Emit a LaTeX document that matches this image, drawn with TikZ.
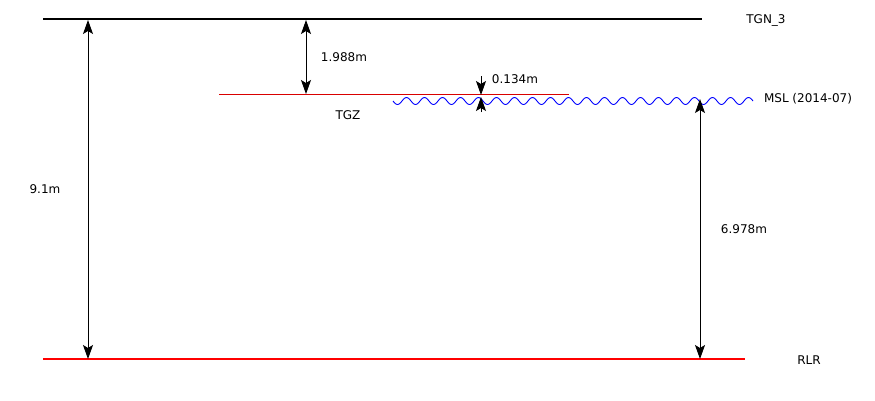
\documentclass[tikz,border=0pt]{standalone}
\usepackage{fontspec}
\setmainfont{DejaVu Sans}
\usetikzlibrary{arrows.meta}

\begin{document}
\begin{tikzpicture}[x=1pt,y=-1pt,
  >={Stealth[length=14pt,width=10pt,inset=3pt]},
  lbl/.style={font=\fontsize{12}{14}\selectfont,inner sep=0pt},
  dim/.style={<->,line width=0.9pt}]
  \useasboundingbox (0,0) rectangle (875,400);
  % level lines
  \coordinate (tgnL) at (43,19);   \coordinate (tgnR) at (702,19);
  \coordinate (tgzL) at (219,94);  \coordinate (tgzR) at (569,94);
  \coordinate (rlrL) at (43,359);  \coordinate (rlrR) at (745,359);
  \draw[line width=1.6pt] (tgnL) -- (tgnR);
  \draw[line width=0.9pt,red!85!black] (tgzL) -- (tgzR);
  \draw[blue,line width=0.9pt] plot[domain=393:753,samples=361,smooth] (\x,{101+3.5*sin((\x-393)*20)});
  \draw[line width=1.6pt,red] (rlrL) -- (rlrR);
  % level names
  \node[lbl] (tgn) at (766,20) {TGN\_3};
  \node[lbl] (tgz) at (348,115) {TGZ};
  \node[lbl] (msl) at (808,99) {MSL (2014-07)};
  \node[lbl] (rlr) at (809,360) {RLR};
  % dimensions
  \coordinate (a1) at (306,20);  \coordinate (a2) at (306,94);
  \coordinate (b1) at (88,20);   \coordinate (b2) at (88,359);
  \coordinate (c1) at (700,99);  \coordinate (c2) at (700,359);
  \coordinate (d0) at (481,76);  \coordinate (d1) at (481,95);
  \coordinate (d2) at (481,97);  \coordinate (d3) at (481,112);
  \draw[dim] (a1) -- (a2);
  \draw[dim] (b1) -- (b2);
  \draw[dim] (c1) -- (c2);
  \draw[->,line width=0.9pt] (d0) -- (d1);
  \draw[->,line width=0.9pt] (d3) -- (d2);
  \node[lbl] (la) at (344,57) {1.988m};
  \node[lbl] (lb) at (45,189) {9.1m};
  \node[lbl] (lc) at (744,229) {6.978m};
  \node[lbl] (ld) at (515,79) {0.134m};
\end{tikzpicture}
\end{document}
